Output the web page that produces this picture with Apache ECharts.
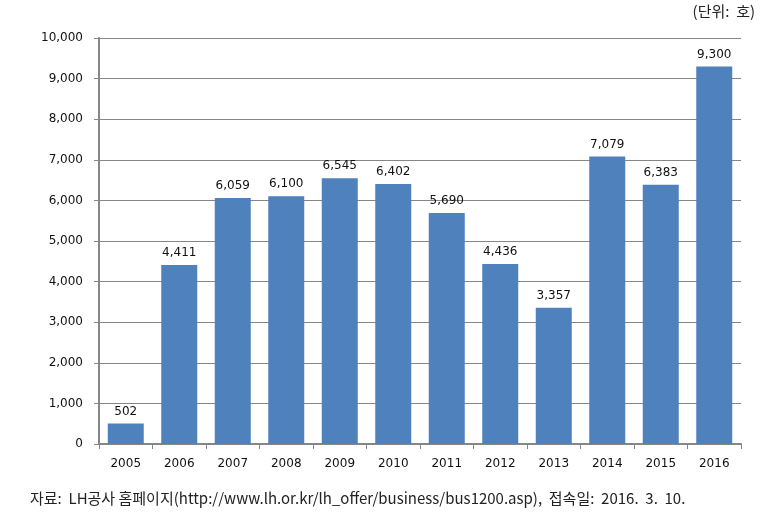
<!DOCTYPE html>
<html><head><meta charset="utf-8">
<script src="https://cdn.jsdelivr.net/npm/echarts@6/dist/echarts.min.js"></script>
<style>html,body{margin:0;padding:0;background:#fff}#c{width:772px;height:521px}</style>
</head><body><div id="c"></div>
<script>
const years = ['2005','2006','2007','2008','2009','2010','2011','2012','2013','2014','2015','2016'];
const units = [502, 4411, 6059, 6100, 6545, 6402, 5690, 4436, 3357, 7079, 6383, 9300];
const unitNote = '(단위:  호)';
const sourceNote = '자료:  LH공사 홈페이지(http://www.lh.or.kr/lh_offer/business/bus1200.asp),  접속일:  2016.  3.  10.';
const FONT = '"Noto Sans CJK KR", "DejaVu Sans", sans-serif';
const fmt = v => v.toLocaleString('en-US');
const chart = echarts.init(document.getElementById('c'), null, {renderer:'canvas'});
chart.setOption({
  animation:false,
  textStyle:{fontFamily:FONT},
  graphic:[
    {type:'text', right:17, top:4, style:{text:unitNote, font:'15px '+FONT, fill:'#222'}},
    {type:'text', left:30, top:491, style:{text:sourceNote, font:'15px '+FONT, fill:'#222'}}
  ],
  grid:{left:99, right:31, top:38, bottom:77},
  xAxis:{type:'category', data:years,
    axisLine:{lineStyle:{color:'#868686', width:2}},
    axisTick:{show:true, length:5, lineStyle:{color:'#868686'}},
    axisLabel:{color:'#111', fontSize:12, margin:14, fontFamily:'"DejaVu Sans", sans-serif'}},
  yAxis:{type:'value', min:0, max:10000, interval:1000,
    axisLine:{show:true, lineStyle:{color:'#868686', width:2}},
    axisTick:{show:true, length:5, lineStyle:{color:'#868686'}},
    splitLine:{lineStyle:{color:'#868686', width:1}},
    axisLabel:{color:'#111', fontSize:12, margin:16, formatter:fmt, fontFamily:'"DejaVu Sans", sans-serif'}},
  series:[{type:'bar', data:units, barWidth:36,
    itemStyle:{color:'#4F81BD'},
    label:{show:true, position:'top', distance:6, color:'#111', fontSize:12, fontFamily:'"DejaVu Sans", sans-serif', formatter:p=>fmt(p.value)}}]
});
</script></body></html>
